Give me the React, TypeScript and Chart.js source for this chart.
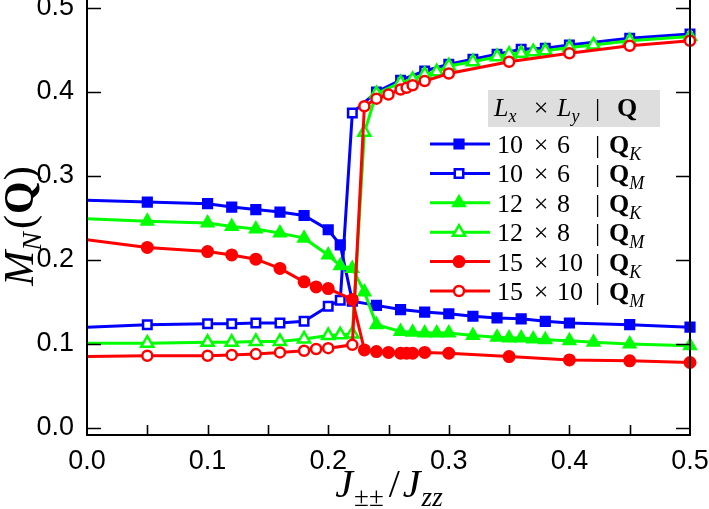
import React, { useEffect, useRef } from "react";
import { Chart, registerables } from "chart.js";

Chart.register(...registerables);

// ---------------- data ----------------
const J10 = [0, 0.05, 0.1, 0.12, 0.14, 0.16, 0.18, 0.2, 0.21, 0.22, 0.24, 0.26, 0.28, 0.3, 0.32, 0.34, 0.36, 0.38, 0.4, 0.45, 0.5];
const MK10 = [0.271, 0.269, 0.267, 0.263, 0.26, 0.257, 0.253, 0.236, 0.218, 0.151, 0.146, 0.141, 0.138, 0.136, 0.133, 0.131, 0.13, 0.127, 0.125, 0.123, 0.12];
const MM10 = [0.12, 0.123, 0.124, 0.124, 0.125, 0.125, 0.127, 0.145, 0.152, 0.375, 0.4, 0.414, 0.425, 0.433, 0.439, 0.445, 0.451, 0.452, 0.456, 0.464, 0.469];

const J12 = [0, 0.05, 0.1, 0.12, 0.14, 0.16, 0.18, 0.2, 0.21, 0.22, 0.23, 0.24, 0.26, 0.27, 0.28, 0.29, 0.3, 0.32, 0.34, 0.35, 0.36, 0.37, 0.38, 0.4, 0.42, 0.45, 0.5];
const MK12 = [0.249, 0.246, 0.244, 0.24, 0.237, 0.232, 0.226, 0.206, 0.193, 0.19, 0.162, 0.123, 0.115, 0.114, 0.113, 0.113, 0.113, 0.11, 0.108, 0.107, 0.107, 0.106, 0.105, 0.104, 0.102, 0.1, 0.098];
const MM12 = [0.101, 0.101, 0.102, 0.102, 0.103, 0.103, 0.106, 0.11, 0.111, 0.112, 0.352, 0.398, 0.411, 0.415, 0.421, 0.424, 0.431, 0.436, 0.442, 0.445, 0.446, 0.448, 0.449, 0.453, 0.456, 0.461, 0.466];

const J15 = [0, 0.05, 0.1, 0.12, 0.14, 0.16, 0.18, 0.19, 0.2, 0.22, 0.23, 0.24, 0.25, 0.26, 0.265, 0.27, 0.28, 0.3, 0.35, 0.4, 0.45, 0.5];
const MK15 = [0.224, 0.215, 0.21, 0.206, 0.201, 0.19, 0.174, 0.168, 0.166, 0.153, 0.093, 0.091, 0.09, 0.089, 0.089, 0.089, 0.09, 0.089, 0.085, 0.081, 0.08, 0.078];
const MM15 = [0.085, 0.086, 0.086, 0.087, 0.088, 0.09, 0.092, 0.094, 0.095, 0.099, 0.383, 0.392, 0.397, 0.403, 0.405, 0.408, 0.413, 0.422, 0.436, 0.446, 0.455, 0.461];

const xTickValues = [0, 0.1, 0.2, 0.3, 0.4, 0.5];
const xMinorValues = [0.05, 0.15, 0.25, 0.35, 0.45];
const yTickValues = [0, 0.1, 0.2, 0.3, 0.4, 0.5];

const legendLx = ["10", "10", "12", "12", "15", "15"];
const legendLy = ["6", "6", "8", "8", "10", "10"];
const legendQ = ["K", "M", "K", "M", "K", "M"];

// ---------------- styles ----------------
const BLUE = "#0000ff";
const GREEN = "#00ff00";
const RED = "#ff0000";
const SERIF = '"Liberation Serif", "Times New Roman", serif';
const SANS = '"Liberation Sans", Arial, sans-serif';

type Series = { xs: number[]; ys: number[]; color: string; style: string; filled: boolean; r: number; order: number };

const SERIES: Series[] = [
  { xs: J10, ys: MK10, color: BLUE, style: "rect", filled: true, r: 6.5, order: 6 },
  { xs: J10, ys: MM10, color: BLUE, style: "rect", filled: false, r: 6, order: 5 },
  { xs: J12, ys: MK12, color: GREEN, style: "triangle", filled: true, r: 7, order: 4 },
  { xs: J12, ys: MM12, color: GREEN, style: "triangle", filled: false, r: 7, order: 3 },
  { xs: J15, ys: MK15, color: RED, style: "circle", filled: true, r: 5.5, order: 2 },
  { xs: J15, ys: MM15, color: RED, style: "circle", filled: false, r: 5, order: 1 },
];

type Seg = { t: string; font: string; dy?: number; gap?: number };

function segsWidth(ctx: CanvasRenderingContext2D, segs: Seg[]) {
  let w = 0;
  for (const s of segs) {
    ctx.font = s.font;
    w += ctx.measureText(s.t).width + (s.gap || 0);
  }
  return w;
}

function drawSegs(ctx: CanvasRenderingContext2D, segs: Seg[], x: number, y: number) {
  let cx = x;
  for (const s of segs) {
    ctx.font = s.font;
    ctx.fillText(s.t, cx, y + (s.dy || 0));
    cx += ctx.measureText(s.t).width + (s.gap || 0);
  }
  return cx;
}

function drawMarker(ctx: CanvasRenderingContext2D, s: Series, x: number, y: number) {
  ctx.save();
  ctx.beginPath();
  const r = s.r;
  if (s.style === "rect") {
    const h = Math.SQRT1_2 * r;
    ctx.rect(x - h, y - h, 2 * h, 2 * h);
  } else if (s.style === "triangle") {
    for (let i = 0; i < 3; i++) {
      const a = (i * 2 * Math.PI) / 3;
      const px = x + Math.sin(a) * r;
      const py = y - Math.cos(a) * r;
      if (i === 0) ctx.moveTo(px, py);
      else ctx.lineTo(px, py);
    }
    ctx.closePath();
  } else {
    ctx.arc(x, y, r, 0, Math.PI * 2);
  }
  ctx.fillStyle = s.filled ? s.color : "#ffffff";
  ctx.fill();
  ctx.lineWidth = s.filled ? 2 : 2.5;
  ctx.strokeStyle = s.color;
  ctx.stroke();
  ctx.restore();
}

const framePlugin = {
  id: "framePlugin",
  afterDraw(chart: any) {
    const { ctx, chartArea: a, scales } = chart;
    const xs = scales.x;
    const ys = scales.y;
    ctx.save();
    ctx.strokeStyle = "#000";
    ctx.lineWidth = 2;
    ctx.beginPath();
    ctx.moveTo(a.left, a.top);
    ctx.lineTo(a.left, a.bottom);
    ctx.lineTo(a.right, a.bottom);
    ctx.lineTo(a.right, a.top);
    ctx.stroke();

    ctx.lineWidth = 1.6;
    ctx.beginPath();
    for (const v of yTickValues) {
      const py = Math.round(ys.getPixelForValue(v)) + 0.5;
      ctx.moveTo(a.left, py);
      ctx.lineTo(a.left + 14, py);
      ctx.moveTo(a.right, py);
      ctx.lineTo(a.right - 14, py);
    }
    for (const v of [...xTickValues, ...xMinorValues]) {
      if (v <= 0 || v >= 0.5) continue;
      const px = Math.round(xs.getPixelForValue(v)) + 0.5;
      ctx.moveTo(px, a.bottom);
      ctx.lineTo(px, a.bottom - 10);
    }
    ctx.stroke();

    ctx.fillStyle = "#000";
    ctx.textBaseline = "alphabetic";
    ctx.textAlign = "left";

    // x title
    const big = 40;
    const sub = 27;
    const xt: Seg[] = [
      { t: "J", font: `italic ${big}px ${SERIF}`, gap: 1 },
      { t: "±±", font: `${sub}px ${SERIF}`, dy: 9, gap: 5 },
      { t: "/", font: `${big}px ${SERIF}`, gap: 3 },
      { t: "J", font: `italic ${big}px ${SERIF}`, gap: 1 },
      { t: "zz", font: `italic ${sub}px ${SERIF}`, dy: 9 },
    ];
    const xw = segsWidth(ctx, xt);
    drawSegs(ctx, xt, 389 - xw / 2, 497);

    // y title
    const yb = 42;
    const ys2 = 28;
    const yt: Seg[] = [
      { t: "M", font: `italic ${yb}px ${SERIF}`, gap: 0 },
      { t: "N", font: `italic ${ys2}px ${SERIF}`, dy: 8, gap: 3 },
      { t: "(", font: `${yb}px ${SERIF}`, gap: 1 },
      { t: "Q", font: `bold ${yb}px ${SERIF}`, gap: 1 },
      { t: ")", font: `${yb}px ${SERIF}` },
    ];
    const yw = segsWidth(ctx, yt);
    ctx.save();
    ctx.translate(19, 226);
    ctx.rotate(-Math.PI / 2);
    drawSegs(ctx, yt, -yw / 2, 14);
    ctx.restore();

    // legend
    const lf = 26;
    const sf = 18;
    ctx.fillStyle = "#dedede";
    ctx.fillRect(488, 90, 172, 37);
    ctx.fillStyle = "#000";
    const hb = 116;
    drawSegs(ctx, [
      { t: "L", font: `italic ${lf}px ${SERIF}`, gap: 0 },
      { t: "x", font: `italic ${sf}px ${SERIF}`, dy: 6 },
    ], 494, hb);
    ctx.font = `${lf}px ${SERIF}`;
    ctx.textAlign = "center";
    ctx.fillText("×", 541, hb);
    ctx.textAlign = "left";
    drawSegs(ctx, [
      { t: "L", font: `italic ${lf}px ${SERIF}`, gap: 0 },
      { t: "y", font: `italic ${sf}px ${SERIF}`, dy: 6 },
    ], 557, hb);
    ctx.font = `${lf}px ${SERIF}`;
    ctx.fillText("|", 595, hb);
    ctx.font = `bold ${lf}px ${SERIF}`;
    ctx.fillText("Q", 617, hb);

    for (let i = 0; i < SERIES.length; i++) {
      const s = SERIES[i];
      const ry = 144 + i * 29.4;
      ctx.strokeStyle = s.color;
      ctx.lineWidth = 3;
      ctx.beginPath();
      ctx.moveTo(430, ry);
      ctx.lineTo(490, ry);
      ctx.stroke();
      drawMarker(ctx, s, 459, ry);
      ctx.fillStyle = "#000";
      const bl = ry + 9;
      ctx.font = `${lf}px ${SERIF}`;
      ctx.textAlign = "left";
      ctx.fillText(legendLx[i], 497, bl);
      ctx.textAlign = "center";
      ctx.fillText("×", 541, bl);
      ctx.textAlign = "left";
      ctx.fillText(legendLy[i], 557, bl);
      ctx.fillText("|", 595, bl);
      drawSegs(ctx, [
        { t: "Q", font: `bold ${lf}px ${SERIF}`, gap: 0 },
        { t: legendQ[i], font: `italic ${sf}px ${SERIF}`, dy: 7 },
      ], 609, bl);
    }
    ctx.restore();
  },
};

export default function App() {
  const ref = useRef<HTMLCanvasElement | null>(null);
  useEffect(() => {
    const canvas = ref.current;
    if (!canvas) return;
    const datasets = SERIES.map((s) => ({
      data: s.xs.map((x, i) => ({ x, y: s.ys[i] })),
      borderColor: s.color,
      backgroundColor: s.filled ? s.color : "#ffffff",
      borderWidth: 3,
      pointStyle: s.style,
      pointRadius: (c: any) => (c.raw && c.raw.x === 0 ? 0 : s.r),
      pointBorderWidth: s.filled ? 2 : 2.5,
      pointBorderColor: s.color,
      pointBackgroundColor: s.filled ? s.color : "#ffffff",
      tension: 0,
      fill: false,
      clip: false as any,
      order: s.order,
    }));
    const chart = new Chart(canvas, {
      type: "line",
      data: { datasets },
      options: {
        animation: false,
        responsive: false,
        maintainAspectRatio: false,
        events: [],
        layout: { autoPadding: false, padding: { left: 0, right: 19, top: 0, bottom: 0 } },
        plugins: { legend: { display: false }, tooltip: { enabled: false } },
        scales: {
          x: {
            type: "linear",
            min: 0,
            max: 0.5,
            grid: { display: false },
            border: { display: false },
            afterBuildTicks: (sc: any) => {
              sc.ticks = xTickValues.map((v) => ({ value: v }));
            },
            afterFit: (sc: any) => {
              sc.height = 74;
              sc.paddingLeft = 0;
              sc.paddingRight = 0;
              sc.paddingTop = 0;
              sc.paddingBottom = 0;
            },
            ticks: {
              color: "#000",
              font: { family: SANS, size: 27 },
              padding: 2,
              maxRotation: 0,
              autoSkip: false,
              callback: (v: any) => Number(v).toFixed(1),
            },
          },
          y: {
            type: "linear",
            min: -0.00833,
            max: 0.5095,
            grid: { display: false },
            border: { display: false },
            afterBuildTicks: (sc: any) => {
              sc.ticks = yTickValues.map((v) => ({ value: v }));
            },
            afterFit: (sc: any) => {
              sc.width = 87;
              sc.paddingTop = 0;
              sc.paddingBottom = 0;
              sc.paddingLeft = 0;
              sc.paddingRight = 0;
            },
            ticks: {
              color: "#000",
              font: { family: SANS, size: 27 },
              padding: 5,
              autoSkip: false,
              callback: (v: any) => Number(v).toFixed(1),
            },
          },
        },
      },
      plugins: [framePlugin],
    });
    return () => chart.destroy();
  }, []);
  return (
    <div style={{ position: "absolute", left: 0, top: 0, width: 709, height: 509, background: "#fff" }}>
      <canvas ref={ref} width={709} height={509} style={{ display: "block" }} />
    </div>
  );
}
